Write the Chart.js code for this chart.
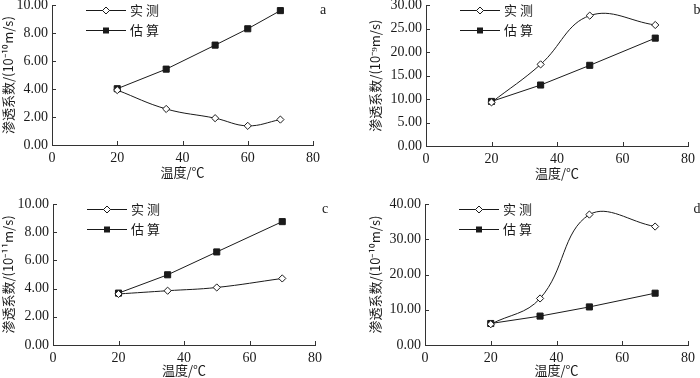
<!DOCTYPE html>
<html>
<head>
<meta charset="utf-8">
<script src="https://cdn.jsdelivr.net/npm/chart.js@4.4.1/dist/chart.umd.min.js"></script>
<style>
  html, body { margin: 0; padding: 0; background: #fff; }
  #wrap { position: relative; width: 700px; height: 378px; overflow: hidden; background: #fff; }
  canvas { position: absolute; }
</style>
</head>
<body>
<div id="wrap">
  <canvas id="ca" width="350" height="189" style="left:0;top:0"></canvas>
  <canvas id="cb" width="350" height="189" style="left:350px;top:0"></canvas>
  <canvas id="cc" width="350" height="189" style="left:0;top:189px"></canvas>
  <canvas id="cd" width="350" height="189" style="left:350px;top:189px"></canvas>
</div>
<script>
// ---- data ----
const seriesNames = ['实测', '估算'];
const xTitle = '温度/℃';
const xTicks = [0, 20, 40, 60, 80];

const tempsA = [20, 35, 50, 60, 70];
const measuredA = [3.93, 2.58, 1.92, 1.37, 1.82];
const estimatedA = [4.03, 5.43, 7.15, 8.32, 9.62];

const tempsB = [20, 35, 50, 70];
const measuredB = [9.3, 17.4, 27.8, 25.8];
const estimatedB = [9.5, 13.0, 17.2, 23.0];

const tempsC = [20, 35, 50, 70];
const measuredC = [3.62, 3.85, 4.08, 4.72];
const estimatedC = [3.68, 4.98, 6.60, 8.75];

const tempsD = [20, 35, 50, 70];
const measuredD = [5.9, 13.2, 37.0, 33.6];
const estimatedD = [6.1, 8.2, 10.8, 14.7];

const yTicksA = [0, 2, 4, 6, 8, 10];
const yTicksB = [0, 5, 10, 15, 20, 25, 30];
const yTicksC = [0, 2, 4, 6, 8, 10];
const yTicksD = [0, 10, 20, 30, 40];

const yTitleA = '渗透系数/(10⁻¹⁰m/s)';
const yTitleB = '渗透系数/(10⁻⁹m/s)';
const yTitleC = '渗透系数/(10⁻¹¹m/s)';
const yTitleD = '渗透系数/(10⁻¹⁰m/s)';

// ---- drawing ----
const INK = '#1a1a1a';
const SERIF = "'Liberation Serif', 'Noto Sans CJK SC', serif";
const CJK = "'Noto Sans CJK SC', 'Liberation Serif', sans-serif";

function pairs(xs, ys) { return xs.map((x, i) => ({ x: x, y: ys[i] })); }

const decorPlugin = {
  id: 'decor',
  afterDraw(chart) {
    const o = chart.options.plugins.decor;
    const ctx = chart.ctx;
    const ca = chart.chartArea;
    const xs = chart.scales.x, ys = chart.scales.y;
    ctx.save();
    // inward ticks
    ctx.strokeStyle = '#333';
    ctx.lineWidth = 1;
    xs.ticks.forEach(t => {
      const px = Math.round(xs.getPixelForValue(t.value)) + 0.5;
      ctx.beginPath(); ctx.moveTo(px, ca.bottom); ctx.lineTo(px, ca.bottom - 4); ctx.stroke();
    });
    ys.ticks.forEach(t => {
      const py = Math.round(ys.getPixelForValue(t.value)) + 0.5;
      ctx.beginPath(); ctx.moveTo(ca.left, py); ctx.lineTo(ca.left + 4, py); ctx.stroke();
    });
    // legend
    const lx0 = ca.left + 34, lx1 = ca.left + 74;
    chart.data.datasets.forEach((ds, i) => {
      const y = Math.round(ca.top + 5 + i * 20) + 0.5;
      ctx.strokeStyle = INK; ctx.lineWidth = 1;
      ctx.beginPath(); ctx.moveTo(lx0, y); ctx.lineTo(lx1, y); ctx.stroke();
      const cx = (lx0 + lx1) / 2;
      if (ds.pointStyle === 'rect') {
        ctx.fillStyle = INK;
        ctx.fillRect(cx - 3, y - 3, 6, 6);
      } else {
        ctx.fillStyle = '#fff';
        ctx.beginPath();
        ctx.moveTo(cx, y - 3.5); ctx.lineTo(cx + 3.5, y); ctx.lineTo(cx, y + 3.5); ctx.lineTo(cx - 3.5, y); ctx.closePath();
        ctx.fill(); ctx.stroke();
      }
      ctx.fillStyle = INK;
      ctx.font = '13px ' + CJK;
      ctx.textAlign = 'left';
      ctx.textBaseline = 'middle';
      try { ctx.letterSpacing = '3px'; } catch (e) {}
      ctx.fillText(ds.label, lx1 + 4, y);
      try { ctx.letterSpacing = '0px'; } catch (e) {}
    });
    // panel letter
    ctx.fillStyle = INK;
    ctx.font = '14px ' + SERIF;
    ctx.textAlign = 'center';
    ctx.textBaseline = 'middle';
    ctx.fillText(o.letter, ca.right + o.letterDx, ca.top + 5);
    ctx.restore();
  }
};

function makePanel(id, temps, meas, est, yTicks, yTitle, L) {
  const W = 350, H = 189;
  const yMax = yTicks[yTicks.length - 1];
  const yStep = yTicks[1] - yTicks[0];
  return new Chart(document.getElementById(id), {
    type: 'line',
    data: {
      datasets: [
        {
          label: seriesNames[0],
          data: pairs(temps, meas),
          borderColor: INK, borderWidth: 1,
          pointStyle: 'rectRot', pointRadius: 3.6,
          pointBackgroundColor: '#fff', pointBorderColor: INK, pointBorderWidth: 1,
          tension: 0.4, fill: false
        },
        {
          label: seriesNames[1],
          data: pairs(temps, est),
          borderColor: INK, borderWidth: 1,
          pointStyle: 'rect', pointRadius: 4.3,
          pointBackgroundColor: INK, pointBorderColor: INK, pointBorderWidth: 1,
          tension: 0, fill: false
        }
      ]
    },
    options: {
      responsive: false,
      animation: false,
      devicePixelRatio: 1,
      layout: { padding: { left: 0, top: L.top, right: W - L.right, bottom: 0 } },
      plugins: {
        legend: { display: false },
        tooltip: { enabled: false },
        decor: { letter: L.letter, letterDx: L.letterDx }
      },
      scales: {
        x: {
          type: 'linear', min: 0, max: 80,
          afterBuildTicks(s) { s.ticks = xTicks.map(v => ({ value: v })); },
          grid: { display: true, drawOnChartArea: false, drawTicks: false },
          border: { display: true, color: '#333', width: 1 },
          ticks: { padding: 5, color: INK, font: { family: SERIF, size: 14 }, maxRotation: 0, autoSkip: false },
          title: { display: true, text: xTitle, color: INK, font: { family: CJK, size: 13 }, padding: { top: 0, bottom: L.xTitlePad } },
          afterFit(s) { s.height = H - L.bottom; s.paddingLeft = 0; s.paddingRight = 0; }
        },
        y: {
          type: 'linear', min: 0, max: yMax,
          afterBuildTicks(s) { s.ticks = yTicks.map(v => ({ value: v })); },
          grid: { display: true, drawOnChartArea: false, drawTicks: false },
          border: { display: true, color: '#333', width: 1 },
          ticks: { padding: 4, color: INK, font: { family: SERIF, size: 14 }, autoSkip: false,
                   callback: v => Number(v).toFixed(2) },
          title: { display: true, text: yTitle, color: INK, font: { family: CJK, size: 13 }, padding: { top: L.yTitlePad, bottom: 0 } },
          afterFit(s) { s.width = L.left; s.paddingTop = 0; s.paddingBottom = 0; }
        }
      }
    },
    plugins: [decorPlugin]
  });
}

makePanel('ca', tempsA, measuredA, estimatedA, yTicksA, yTitleA,
  { left: 52, right: 313, top: 5, bottom: 145, xTitlePad: 9, yTitlePad: 0, letter: 'a', letterDx: 10 });
makePanel('cb', tempsB, measuredB, estimatedB, yTicksB, yTitleB,
  { left: 76, right: 338, top: 5, bottom: 146, xTitlePad: 8, yTitlePad: 17, letter: 'b', letterDx: 9 });
makePanel('cc', tempsC, measuredC, estimatedC, yTicksC, yTitleC,
  { left: 53, right: 315, top: 15, bottom: 156, xTitlePad: 0, yTitlePad: 0, letter: 'c', letterDx: 10 });
makePanel('cd', tempsD, measuredD, estimatedD, yTicksD, yTitleD,
  { left: 75, right: 338, top: 15, bottom: 156, xTitlePad: 0, yTitlePad: 17, letter: 'd', letterDx: 9 });
</script>
</body>
</html>
